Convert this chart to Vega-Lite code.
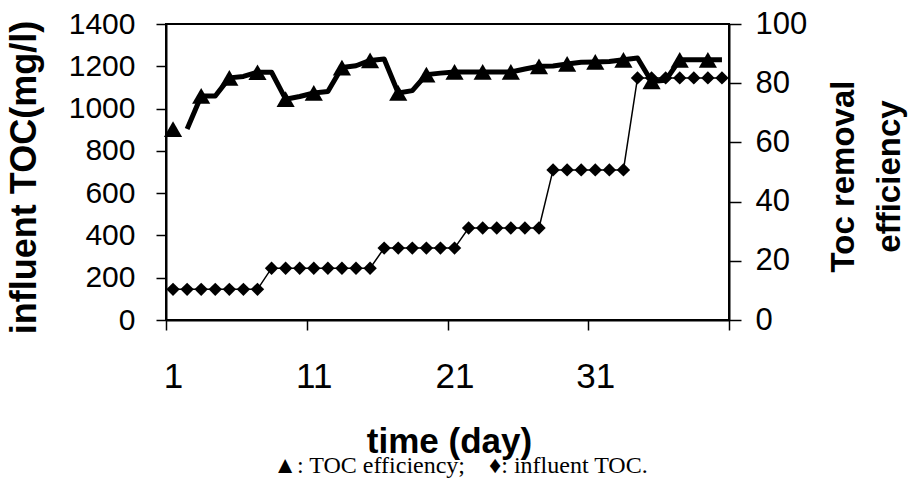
{
  "$schema": "https://vega.github.io/schema/vega-lite/v6.json",
  "width": 563,
  "height": 296,
  "autosize": {"type": "none"},
  "padding": {"left": 166, "top": 24, "right": 181, "bottom": 162},
  "background": "white",
  "datasets": {
    "influent": [
      {"day": 1, "toc": 145}, {"day": 2, "toc": 145}, {"day": 3, "toc": 145}, {"day": 4, "toc": 145},
      {"day": 5, "toc": 145}, {"day": 6, "toc": 145}, {"day": 7, "toc": 145},
      {"day": 8, "toc": 245}, {"day": 9, "toc": 245}, {"day": 10, "toc": 245}, {"day": 11, "toc": 245},
      {"day": 12, "toc": 245}, {"day": 13, "toc": 245}, {"day": 14, "toc": 245}, {"day": 15, "toc": 245},
      {"day": 16, "toc": 340}, {"day": 17, "toc": 340}, {"day": 18, "toc": 340}, {"day": 19, "toc": 340},
      {"day": 20, "toc": 340}, {"day": 21, "toc": 340},
      {"day": 22, "toc": 435}, {"day": 23, "toc": 435}, {"day": 24, "toc": 435}, {"day": 25, "toc": 435},
      {"day": 26, "toc": 435}, {"day": 27, "toc": 435},
      {"day": 28, "toc": 710}, {"day": 29, "toc": 710}, {"day": 30, "toc": 710}, {"day": 31, "toc": 710},
      {"day": 32, "toc": 710}, {"day": 33, "toc": 710},
      {"day": 34, "toc": 1145}, {"day": 35, "toc": 1145}, {"day": 36, "toc": 1145}, {"day": 37, "toc": 1145},
      {"day": 38, "toc": 1145}, {"day": 39, "toc": 1145}, {"day": 40, "toc": 1145}
    ],
    "eff": [
      {"day": 1, "eff": 64.5, "marker": true, "line": false},
      {"day": 2, "eff": 64.5, "marker": false, "line": true},
      {"day": 3, "eff": 75.7, "marker": true, "line": true},
      {"day": 4, "eff": 75.7, "marker": false, "line": true},
      {"day": 5, "eff": 81.8, "marker": true, "line": true},
      {"day": 6, "eff": 82.3, "marker": false, "line": true},
      {"day": 7, "eff": 83.7, "marker": true, "line": true},
      {"day": 8, "eff": 83.7, "marker": false, "line": true},
      {"day": 9, "eff": 74.6, "marker": true, "line": true},
      {"day": 10, "eff": 75.5, "marker": false, "line": true},
      {"day": 11, "eff": 76.7, "marker": true, "line": true},
      {"day": 12, "eff": 77.2, "marker": false, "line": true},
      {"day": 13, "eff": 85.3, "marker": true, "line": true},
      {"day": 14, "eff": 85.9, "marker": false, "line": true},
      {"day": 15, "eff": 87.7, "marker": true, "line": true},
      {"day": 16, "eff": 88.2, "marker": false, "line": true},
      {"day": 17, "eff": 76.7, "marker": true, "line": true},
      {"day": 18, "eff": 77.5, "marker": false, "line": true},
      {"day": 19, "eff": 82.9, "marker": true, "line": true},
      {"day": 20, "eff": 83.4, "marker": false, "line": true},
      {"day": 21, "eff": 83.8, "marker": true, "line": true},
      {"day": 22, "eff": 83.8, "marker": false, "line": true},
      {"day": 23, "eff": 83.8, "marker": true, "line": true},
      {"day": 24, "eff": 83.8, "marker": false, "line": true},
      {"day": 25, "eff": 83.8, "marker": true, "line": true},
      {"day": 26, "eff": 84.8, "marker": false, "line": true},
      {"day": 27, "eff": 85.7, "marker": true, "line": true},
      {"day": 28, "eff": 85.8, "marker": false, "line": true},
      {"day": 29, "eff": 86.5, "marker": true, "line": true},
      {"day": 30, "eff": 87.1, "marker": false, "line": true},
      {"day": 31, "eff": 87.2, "marker": true, "line": true},
      {"day": 32, "eff": 87.3, "marker": false, "line": true},
      {"day": 33, "eff": 87.9, "marker": true, "line": true},
      {"day": 34, "eff": 88.5, "marker": false, "line": true},
      {"day": 35, "eff": 80.6, "marker": true, "line": true},
      {"day": 36, "eff": 81.0, "marker": false, "line": true},
      {"day": 37, "eff": 87.9, "marker": true, "line": true},
      {"day": 38, "eff": 87.9, "marker": false, "line": true},
      {"day": 39, "eff": 87.9, "marker": true, "line": true},
      {"day": 40, "eff": 87.9, "marker": false, "line": true}
    ]
  },
  "title": {
    "text": "▲: TOC efficiency;\u00a0\u00a0\u00a0\u00a0♦: influent TOC.",
    "orient": "bottom",
    "anchor": "middle",
    "dx": 13,
    "offset": -5,
    "font": "Liberation Serif",
    "fontSize": 24,
    "fontWeight": "normal",
    "color": "black"
  },
  "encoding": {
    "x": {
      "field": "day",
      "type": "quantitative",
      "scale": {"domain": [0.5, 40.5], "nice": false, "zero": false},
      "axis": {
        "values": [0.5, 10.5, 20.5, 30.5, 40.5],
        "labelExpr": "datum.value > 40 ? '' : format(datum.value + 0.5, 'd')",
        "labelOffset": 7.04,
        "tickSize": 10,
        "tickWidth": 1.5,
        "tickColor": "black",
        "domainColor": "black",
        "domainWidth": 2,
        "labelFont": "Liberation Sans",
        "labelFontSize": 35,
        "labelColor": "black",
        "labelBaseline": "alphabetic",
        "labelPadding": 57,
        "labelFlush": false,
        "labelOverlap": false,
        "title": "time (day)",
        "titleFont": "Liberation Sans",
        "titleFontSize": 35,
        "titleFontWeight": "bold",
        "titleColor": "black",
        "titleBaseline": "alphabetic",
        "titleAlign": "center",
        "titleX": 283,
        "titleY": 132,
        "grid": false
      }
    }
  },
  "layer": [
    {
      "data": {"name": "influent"},
      "encoding": {
        "y": {
          "field": "toc",
          "type": "quantitative",
          "scale": {"domain": [0, 1400], "nice": false},
          "axis": {
            "orient": "left",
            "values": [0, 200, 400, 600, 800, 1000, 1200, 1400],
            "format": "d",
            "tickSize": 10,
            "tickWidth": 1.5,
            "tickColor": "black",
            "domainColor": "black",
            "domainWidth": 2,
            "labelFont": "Liberation Sans",
            "labelFontSize": 30,
            "labelColor": "black",
            "labelPadding": 21,
            "labelFlush": false,
            "labelOverlap": false,
            "title": "influent TOC(mg/l)",
            "titleFont": "Liberation Sans",
            "titleFontSize": 36,
            "titleFontWeight": "bold",
            "titleColor": "black",
            "titleAngle": 270,
            "titleBaseline": "alphabetic",
            "titleAlign": "center",
            "titleX": -131,
            "titleY": 153,
            "grid": false
          }
        }
      },
      "layer": [
        {"mark": {"type": "line", "color": "black", "strokeWidth": 1.5}},
        {"mark": {"type": "point", "shape": "diamond", "filled": true, "color": "black", "size": 180, "opacity": 1}}
      ]
    },
    {
      "data": {"name": "eff"},
      "encoding": {
        "y": {
          "field": "eff",
          "type": "quantitative",
          "scale": {"domain": [0, 100], "nice": false},
          "axis": {
            "orient": "right",
            "values": [0, 20, 40, 60, 80, 100],
            "format": "d",
            "tickSize": 12,
            "tickWidth": 1.5,
            "tickColor": "black",
            "domainColor": "black",
            "domainWidth": 2,
            "labelFont": "Liberation Sans",
            "labelFontSize": 31,
            "labelColor": "black",
            "labelPadding": 14,
            "labelFlush": false,
            "labelOverlap": false,
            "title": ["Toc removal", "efficiency"],
            "titleFont": "Liberation Sans",
            "titleFontSize": 33,
            "titleFontWeight": "bold",
            "titleColor": "black",
            "titleAngle": 270,
            "titleBaseline": "alphabetic",
            "titleAlign": "center",
            "titleLineHeight": 46,
            "titleX": 124,
            "titleY": 152,
            "grid": false
          }
        }
      },
      "layer": [
        {
          "transform": [{"filter": "datum.line"}],
          "mark": {"type": "line", "color": "black", "strokeWidth": 5, "strokeJoin": "round"}
        },
        {
          "transform": [{"filter": "datum.marker"}],
          "mark": {"type": "point", "shape": "triangle-up", "filled": true, "color": "black", "size": 330, "opacity": 1}
        }
      ]
    }
  ],
  "resolve": {"scale": {"y": "independent"}},
  "config": {
    "view": {"stroke": "black", "strokeWidth": 2},
    "axis": {"grid": false}
  }
}
